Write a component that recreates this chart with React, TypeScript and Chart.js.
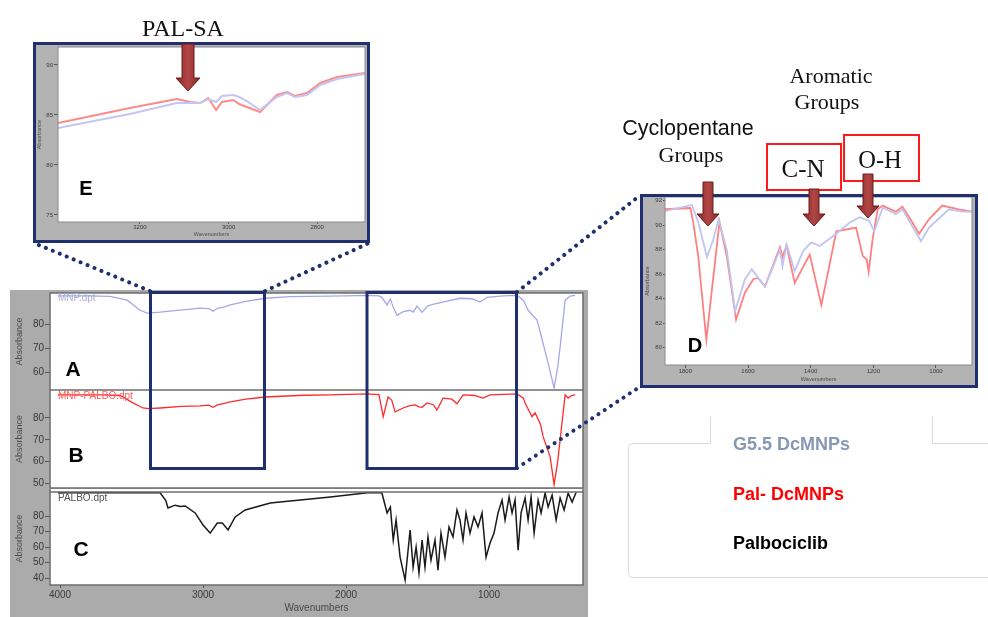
import { useEffect, useRef } from "react";
import { Chart, registerables } from "chart.js";

Chart.register(...registerables);

const SANS = 'Arial, "Liberation Sans", Helvetica, sans-serif';
const SERIF = '"Times New Roman", "Liberation Serif", Times, serif';
const NAVY = "#1f2f6f";
const PANEL_GREY = "#ababab";

// ---- survey spectra (wavenumber cm-1 / absorbance) ----
const MNP_WAVENUMBERS = [4015, 3800, 3650, 3530, 3440, 3390, 3300, 3200, 3100, 3020, 2960, 2930, 2900, 2850, 2810, 2700, 2565, 2390, 2000, 1850, 1770, 1750, 1713, 1690, 1670, 1643, 1600, 1552, 1530, 1504, 1468, 1430, 1392, 1300, 1203, 1120, 1063, 1014, 900, 804, 760, 727, 700, 664, 622, 587, 545, 520, 503, 468, 433, 398];
const MNP_ABSORBANCE = [91.8, 91.8, 91.6, 90, 85.8, 84.6, 85, 85.6, 86.2, 86.7, 86.5, 85.4, 86.6, 87.2, 88, 89.5, 90.8, 91.5, 91.8, 92, 91.8, 91.2, 88, 90.5, 87, 83.7, 85.2, 85.8, 85, 87.5, 85, 87.5, 88.3, 89.5, 90.8, 90.6, 89.2, 91.2, 91.8, 92, 90, 85.8, 84, 81.7, 72, 63.7, 53.3, 62, 70.4, 90, 91.7, 92];

const PAL_WAVENUMBERS = [4015, 3700, 3580, 3490, 3420, 3380, 3300, 3150, 3020, 2960, 2930, 2900, 2850, 2810, 2700, 2565, 2300, 2110, 1850, 1770, 1740, 1706, 1680, 1657, 1601, 1560, 1517, 1490, 1468, 1434, 1390, 1364, 1322, 1260, 1224, 1182, 1100, 1042, 993, 804, 760, 748, 699, 678, 640, 622, 573, 545, 520, 503, 468, 447, 420, 398];
const PAL_ABSORBANCE = [90.5, 90.5, 90.2, 86.8, 84.5, 84.2, 84.5, 85.2, 85.5, 85.8, 84.8, 85.9, 86.6, 87.3, 88.5, 89.5, 90.3, 90.5, 90.9, 90.6, 80.5, 89.5, 88, 82.7, 84.5, 85.5, 85.9, 85, 84.8, 86.8, 86, 83.6, 89, 88.5, 86.4, 90.5, 90.2, 89, 90.5, 90.9, 89, 86.8, 80.5, 82.3, 77, 71.4, 62.3, 49.5, 60, 70, 90.5, 89, 90.3, 90.5];

const PALBO_WAVENUMBERS = [4015, 3300, 3260, 3245, 3195, 3160, 3125, 3055, 3000, 2950, 2900, 2865, 2825, 2775, 2705, 2530, 2110, 1850, 1750, 1713, 1690, 1670, 1650, 1622, 1587, 1552, 1531, 1510, 1490, 1468, 1448, 1427, 1406, 1378, 1357, 1336, 1308, 1280, 1252, 1224, 1203, 1182, 1161, 1133, 1105, 1077, 1049, 1021, 993, 965, 937, 909, 888, 860, 839, 818, 797, 776, 748, 727, 706, 685, 657, 636, 608, 587, 559, 531, 503, 475, 447, 419, 391];
const PALBO_ABSORBANCE = [95, 95, 90, 85.2, 87, 86.2, 86.5, 82, 74.2, 69, 75.5, 75.5, 71, 79.4, 83.9, 88.4, 92.3, 95, 95.2, 82, 85.8, 64.5, 77.4, 53.5, 38.7, 71, 47, 60, 43.2, 64.5, 47, 66.5, 51.6, 64.5, 45, 69, 53.5, 73, 66.5, 83.9, 77.4, 64.5, 82, 69, 79.4, 73, 82, 53.5, 62.6, 69, 82, 90.3, 77.4, 92.3, 82, 90.3, 58, 82, 91.6, 77.4, 92.3, 69, 90.3, 82, 94.8, 85.8, 93.5, 77.4, 91.6, 83.9, 94.8, 89, 95.3];

const SURVEY_X_TICKS = [4000, 3000, 2000, 1000];
const PANEL_A_Y_TICKS = [80, 70, 60];
const PANEL_B_Y_TICKS = [80, 70, 60, 50];
const PANEL_C_Y_TICKS = [80, 70, 60, 50, 40];

// ---- inset E: C-H stretching region ----
const E_WAVENUMBERS = [3385, 3223, 3117, 3087, 3064, 3046, 3028, 3015, 2989, 2976, 2959, 2929, 2891, 2868, 2850, 2823, 2793, 2755, 2692];
const E_MNP = [83.7, 85.1, 86.2, 86.2, 86.2, 86.6, 86.3, 86.9, 87, 86.8, 86.4, 85.5, 86.8, 87.2, 86.8, 87, 88, 88.6, 89.1];
const E_PAL = [84.2, 85.7, 86.6, 86.3, 86.2, 86.7, 85.5, 86.3, 86.5, 86.1, 85.8, 85.3, 87, 87.3, 86.9, 87.2, 88.2, 88.8, 89.2];
const E_X_TICKS = [3200, 3000, 2800];
const E_Y_TICKS = [90, 85, 80, 75];

// ---- inset D: fingerprint region ----
const D_MNP_WAVENUMBERS = [1865, 1806, 1779, 1759, 1731, 1710, 1694, 1668, 1641, 1610, 1588, 1546, 1498, 1490, 1477, 1451, 1424, 1398, 1371, 1329, 1276, 1244, 1213, 1197, 1170, 1128, 1107, 1048, 1022, 959, 917, 885];
const D_MNP = [91.15, 91.5, 91.65, 90.25, 87.4, 88.9, 90.5, 88, 83, 85.6, 86.4, 85, 88, 86.65, 88.45, 86.25, 87.9, 88.6, 88.3, 89.1, 90.2, 90.65, 90.35, 89.5, 91.45, 90.9, 91.3, 88.7, 89.8, 91.3, 91.1, 91.1];
const D_PAL_WAVENUMBERS = [1865, 1784, 1775, 1759, 1733, 1715, 1691, 1668, 1638, 1610, 1583, 1568, 1546, 1498, 1490, 1477, 1451, 1403, 1366, 1318, 1255, 1234, 1221, 1215, 1202, 1186, 1170, 1128, 1107, 1077, 1054, 1022, 980, 927, 885];
const D_PAL = [91.3, 91.4, 90.25, 87.5, 80.66, 84.8, 90.25, 87.5, 82.3, 84.5, 85.6, 85.7, 85, 88.2, 87.4, 88.35, 85.3, 87.6, 83.5, 89.5, 89.8, 87.5, 87.2, 86.2, 88.9, 91.3, 91.6, 91.1, 91.5, 90.3, 89.3, 90.5, 91.6, 91.3, 91.1];
const D_X_TICKS = [1800, 1600, 1400, 1200, 1000];
const D_Y_TICKS = [92, 90, 88, 86, 84, 82, 80];

const LEGEND_LABELS = ["G5.5 DcMNPs", "Pal- DcMNPs", "Palbociclib"];
const LEGEND_COLORS = ["#8797b6", "#ff0000", "#000000"];

const points = (wn: number[], ab: number[]) => wn.map((x, i) => ({ x, y: ab[i] }));

// white plot area, frame, file name and panel letter
const panelDecor = {
  id: "panelDecor",
  beforeDraw(chart: any, _args: any, o: any) {
    const { ctx, chartArea: a } = chart;
    ctx.save();
    ctx.fillStyle = "#ffffff";
    const top = a.top - (o.gapTop || 0);
    ctx.fillRect(a.left, top, a.right - a.left, a.bottom - top);
    ctx.restore();
  },
  afterDraw(chart: any, _args: any, o: any) {
    const { ctx, chartArea: a } = chart;
    ctx.save();
    ctx.strokeStyle = o.frameColor || "#6e6e6e";
    ctx.lineWidth = o.frameWidth || 1.5;
    ctx.strokeRect(a.left, a.top, a.right - a.left, a.bottom - a.top);
    if (o.gapTop) {
      ctx.beginPath();
      ctx.moveTo(a.left, 0);
      ctx.lineTo(a.left, a.top);
      ctx.moveTo(a.right, 0);
      ctx.lineTo(a.right, a.top);
      ctx.stroke();
    }
    if (o.file) {
      ctx.font = `${o.fileSize || 9}px ${SANS}`;
      ctx.fillStyle = o.fileColor;
      ctx.textAlign = "left";
      ctx.textBaseline = "middle";
      ctx.fillText(o.file, o.fx, o.fy);
    }
    if (o.letter) {
      ctx.font = `bold ${o.letterSize}px ${SANS}`;
      ctx.fillStyle = "#000";
      ctx.textAlign = "center";
      ctx.textBaseline = "middle";
      ctx.fillText(o.letter, o.lx, o.ly);
    }
    ctx.restore();
  },
};

function axis(o: any) {
  const display = o.display ?? true;
  return {
    type: "linear",
    display,
    reverse: !!o.reverse,
    min: o.min,
    max: o.max,
    afterFit: (s: any) => {
      // fixed axis band, no automatic label overhang padding
      s.paddingTop = 0;
      s.paddingBottom = 0;
      s.paddingLeft = 0;
      s.paddingRight = 0;
      if (!display) {
        s.width = 0;
        s.height = 0;
      } else if (o.horizontal) s.height = o.size;
      else s.width = o.size;
    },
    afterBuildTicks: (s: any) => {
      s.ticks = o.ticks.map((value: number) => ({ value }));
    },
    grid: { display: true, drawOnChartArea: false, drawTicks: true, tickLength: o.tickLength, color: "#555", lineWidth: 1 },
    border: { display: false },
    ticks: {
      autoSkip: false,
      maxRotation: 0,
      padding: o.padding,
      color: "#3a3a3a",
      font: { family: SANS, size: o.fontSize },
      callback: (v: any) => String(v),
    },
    title: {
      display: !!o.title,
      text: o.title || "",
      color: "#4a4a4a",
      font: { family: SANS, size: o.titleSize || 9 },
      padding: o.titlePad || 0,
    },
  };
}

const surveyX = (display: boolean) =>
  axis({ horizontal: true, display, reverse: true, min: 343, max: 4070, ticks: SURVEY_X_TICKS, size: 32, fontSize: 10, tickLength: 3, padding: 1, title: "Wavenumbers", titleSize: 10, titlePad: { top: 0, bottom: 3 } });

const surveyY = (min: number, max: number, ticks: number[]) =>
  axis({ min, max, ticks, size: 40, fontSize: 10, tickLength: 5, padding: 1, title: "Absorbance", titleSize: 9, titlePad: { top: 4.5, bottom: 0 } });

function lineSet(data: any[], color: string, width: number) {
  return { data, borderColor: color, borderWidth: width, pointRadius: 0, tension: 0, fill: false };
}

function makeChart(canvas: HTMLCanvasElement, datasets: any[], scales: any, padding: any, decor: any) {
  return new Chart(canvas, {
    type: "line",
    data: { datasets },
    options: {
      animation: false,
      responsive: false,
      events: [],
      layout: { padding },
      plugins: { legend: { display: false }, tooltip: { enabled: false }, panelDecor: decor } as any,
      scales,
    } as any,
    plugins: [panelDecor as any],
  });
}

function Arrow({ cx, top, neck, tip, shaft, head }: { cx: number; top: number; neck: number; tip: number; shaft: number; head: number }) {
  const s = shaft / 2;
  const h = head / 2;
  const pts = `${cx - s},${top} ${cx + s},${top} ${cx + s},${neck} ${cx + h},${neck} ${cx},${tip} ${cx - h},${neck} ${cx - s},${neck}`;
  return <polygon points={pts} fill="url(#arrowFill)" stroke="#6a1c1c" strokeWidth={1} strokeLinejoin="miter" />;
}

export default function App() {
  const aRef = useRef<HTMLCanvasElement>(null);
  const bRef = useRef<HTMLCanvasElement>(null);
  const cRef = useRef<HTMLCanvasElement>(null);
  const eRef = useRef<HTMLCanvasElement>(null);
  const dRef = useRef<HTMLCanvasElement>(null);

  useEffect(() => {
    const charts: Chart[] = [];
    charts.push(
      makeChart(aRef.current!, [lineSet(points(MNP_WAVENUMBERS, MNP_ABSORBANCE), "#a4a6ea", 1.3)],
        { x: surveyX(false), y: surveyY(52.5, 93, PANEL_A_Y_TICKS) },
        { top: 3, right: 5, bottom: 0, left: 0 },
        { file: "MNP.dpt", fileColor: "#a9acd8", fx: 48, fy: 8, fileSize: 10, letter: "A", letterSize: 21, lx: 63, ly: 80 })
    );
    charts.push(
      makeChart(bRef.current!, [lineSet(points(PAL_WAVENUMBERS, PAL_ABSORBANCE), "#ff2b2b", 1.3)],
        { x: surveyX(false), y: surveyY(48, 92.7, PANEL_B_Y_TICKS) },
        { top: 0, right: 5, bottom: 1, left: 0 },
        { file: "MNP-PALBO.dpt", fileColor: "#ff5a5a", fx: 48, fy: 6, fileSize: 10, letter: "B", letterSize: 21, lx: 66, ly: 66 })
    );
    charts.push(
      makeChart(cRef.current!, [lineSet(points(PALBO_WAVENUMBERS, PALBO_ABSORBANCE), "#1a1a1a", 1.5)],
        { x: surveyX(true), y: surveyY(35.5, 95.5, PANEL_C_Y_TICKS) },
        { top: 3, right: 5, bottom: 0, left: 0 },
        { gapTop: 3, file: "PALBO.dpt", fileColor: "#555", fx: 48, fy: 9, fileSize: 10, letter: "C", letterSize: 21, lx: 71, ly: 61 })
    );
    charts.push(
      makeChart(eRef.current!, [
          lineSet(points(E_WAVENUMBERS, E_MNP), "#c3c6f2", 2),
          lineSet(points(E_WAVENUMBERS, E_PAL), "#ff8a8a", 2),
        ],
        {
          x: axis({ horizontal: true, reverse: true, min: 2692, max: 3385, ticks: E_X_TICKS, size: 18, fontSize: 6, tickLength: 2, padding: 0, title: "Wavenumbers", titleSize: 5.5, titlePad: { top: 0, bottom: 2 } }),
          y: axis({ min: 74.3, max: 91.8, ticks: E_Y_TICKS, size: 22, fontSize: 6, tickLength: 4, padding: 1, title: "Absorbance", titleSize: 5.5, titlePad: { top: 0, bottom: 0 } }),
        },
        { top: 2, right: 2, bottom: 0, left: 0 },
        { frameColor: "#8a8a8a", frameWidth: 1, letter: "E", letterSize: 20, lx: 50, ly: 144 })
    );
    charts.push(
      makeChart(dRef.current!, [
          lineSet(points(D_MNP_WAVENUMBERS, D_MNP), "#c0c4f0", 1.8),
          lineSet(points(D_PAL_WAVENUMBERS, D_PAL), "#ff8080", 1.8),
        ],
        {
          x: axis({ horizontal: true, reverse: true, min: 885, max: 1865, ticks: D_X_TICKS, size: 20, fontSize: 6, tickLength: 3, padding: 0, title: "Wavenumbers", titleSize: 5.5, titlePad: { top: 0, bottom: 2.5 } }),
          y: axis({ min: 78.6, max: 92.3, ticks: D_Y_TICKS, size: 22, fontSize: 6, tickLength: 2, padding: 1, title: "Absorbance", titleSize: 5.5, titlePad: { top: 0.7, bottom: 0 } }),
        },
        { top: 0, right: 3, bottom: 0, left: 0 },
        { frameColor: "#8a8a8a", frameWidth: 1, letter: "D", letterSize: 20, lx: 52, ly: 149 })
    );
    return () => charts.forEach((c) => c.destroy());
  }, []);

  const dotted = { stroke: NAVY, strokeWidth: 4, strokeDasharray: "0.01 7.5", strokeLinecap: "round" as const };

  return (
    <div style={{ position: "absolute", left: 0, top: 0, width: 988, height: 617, background: "#fff", overflow: "hidden" }}>
      {/* survey spectra A, B, C */}
      <div style={{ position: "absolute", left: 10, top: 290, width: 578, height: 327, background: PANEL_GREY }}>
        <canvas ref={aRef} width={578} height={100} style={{ position: "absolute", left: 0, top: 0 }} />
        <canvas ref={bRef} width={578} height={99} style={{ position: "absolute", left: 0, top: 100 }} />
        <canvas ref={cRef} width={578} height={128} style={{ position: "absolute", left: 0, top: 199 }} />
      </div>

      {/* inset E */}
      <div style={{ position: "absolute", left: 33, top: 42, width: 337, height: 201, boxSizing: "border-box", border: `3px solid ${NAVY}`, background: "#b3b3b3" }}>
        <canvas ref={eRef} width={331} height={195} style={{ position: "absolute", left: 0, top: 0 }} />
      </div>

      {/* inset D */}
      <div style={{ position: "absolute", left: 640, top: 194, width: 338, height: 194, boxSizing: "border-box", border: `3px solid ${NAVY}`, background: "#b3b3b3" }}>
        <canvas ref={dRef} width={332} height={188} style={{ position: "absolute", left: 0, top: 0 }} />
      </div>

      <svg width={988} height={617} style={{ position: "absolute", left: 0, top: 0, pointerEvents: "none" }}>
        <defs>
          <linearGradient id="arrowFill" x1="0" y1="0" x2="1" y2="0">
            <stop offset="0" stopColor="#862828" />
            <stop offset="0.5" stopColor="#b34646" />
            <stop offset="1" stopColor="#862828" />
          </linearGradient>
        </defs>

        {/* zoom windows and connectors */}
        <rect x={150.5} y={292.5} width={114} height={176} fill="none" stroke={NAVY} strokeWidth={3} />
        <rect x={367} y={292.5} width={149.5} height={176} fill="none" stroke={NAVY} strokeWidth={3} />
        <line x1={150} y1={291} x2={34} y2={243} {...dotted} />
        <line x1={265} y1={291} x2={369} y2={243} {...dotted} />
        <line x1={517} y1={292} x2={638} y2={197} {...dotted} />
        <line x1={517} y1={468} x2={638} y2={388} {...dotted} />

        {/* band annotations */}
        <text x={183} y={36} textAnchor="middle" fontFamily={SERIF} fontSize={24} fill="#111">PAL-SA</text>
        <Arrow cx={188} top={44} neck={78} tip={91} shaft={12} head={24} />

        <text x={688} y={135} textAnchor="middle" fontFamily={SANS} fontSize={21.5} fill="#111">Cyclopentane</text>
        <text x={691} y={162} textAnchor="middle" fontFamily={SERIF} fontSize={22} fill="#111">Groups</text>
        <text x={831} y={83} textAnchor="middle" fontFamily={SERIF} fontSize={22} fill="#111">Aromatic</text>
        <text x={827} y={109} textAnchor="middle" fontFamily={SERIF} fontSize={22} fill="#111">Groups</text>

        <rect x={767} y={144} width={74} height={46} fill="none" stroke="#ff1a1a" strokeWidth={2} />
        <text x={803} y={177} textAnchor="middle" fontFamily={SERIF} fontSize={25} fill="#111">C-N</text>
        <rect x={844} y={135} width={75} height={46} fill="none" stroke="#ff1a1a" strokeWidth={2} />
        <text x={880} y={168} textAnchor="middle" fontFamily={SERIF} fontSize={24.5} fill="#111">O-H</text>

        <Arrow cx={708} top={182} neck={214} tip={226} shaft={10} head={22} />
        <Arrow cx={814} top={189} neck={214} tip={226} shaft={10} head={22} />
        <Arrow cx={868} top={174} neck={206} tip={218} shaft={10} head={22} />

        {/* legend */}
        <path d="M 710.5 417 L 710.5 443.5 L 632.5 443.5 Q 628.5 443.5 628.5 447.5 L 628.5 573.5 Q 628.5 577.5 632.5 577.5 L 992 577.5" fill="none" stroke="#dadada" strokeWidth={1} />
        <path d="M 932.5 417 L 932.5 443.5 L 992 443.5" fill="none" stroke="#dadada" strokeWidth={1} />
        {LEGEND_LABELS.map((label, i) => (
          <text key={label} x={733} y={450 + i * 49.5} fontFamily={SANS} fontWeight="bold" fontSize={18} fill={LEGEND_COLORS[i]}>
            {label}
          </text>
        ))}
      </svg>
    </div>
  );
}
